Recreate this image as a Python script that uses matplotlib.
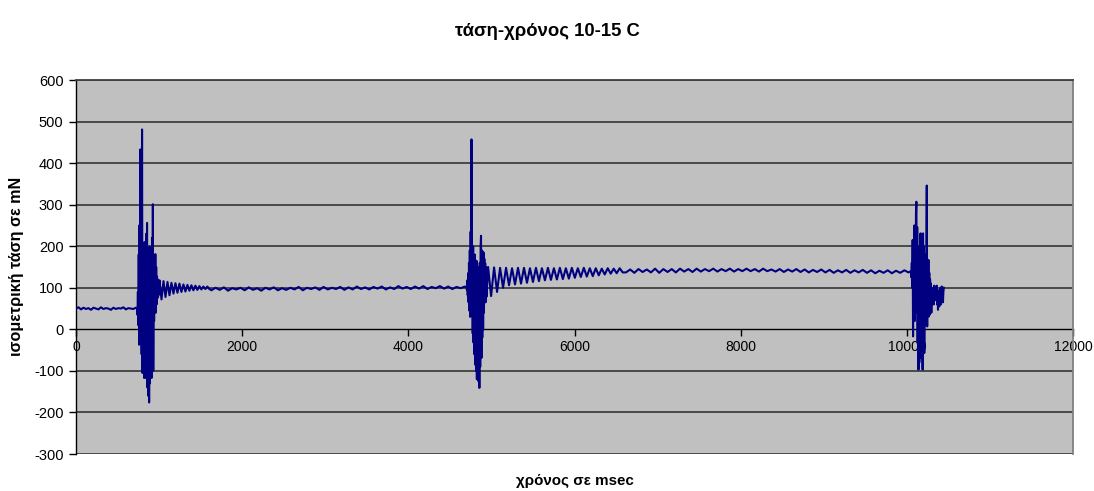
import numpy as np
import matplotlib
matplotlib.use('Agg')
import matplotlib.pyplot as plt

plt.rcParams['font.family'] = ['Liberation Sans', 'DejaVu Sans']

# ---- data (ms, mN) ----
# each segment: start time, sampling step, values
rest1_start, rest1_step = 0, 30
rest1 = [50,53,48,52,49,51,47,52,50,48,53,49,51,50,47,52,49,51,50,53,48,51,50,49,52]

burst1_start, burst1_step = 735, 5
burst1 = [50,35,90,10,180,-37,251,20,433,-20,300,-60,481,-105,200,-90,150,-117,210,-80,
          184,-117,230,-100,256,-140,190,-160,160,-176,199,-130,170,-110,150,-117,220,-40,
          301,-100,120,20,140,60,181,40,150,60,127,75,120,80,115,85]

settle1_start, settle1_step = 1005, 24
settle1 = [118,72,116,78,114,82,112,86,111,88,110,90,108,91,107,93,106,94,105,95,104,96,
           103,97,103,97]

steady1_start, steady1_step = 1630, 50
steady1 = [94,100,95,101,93,99,96,100,94,101,95,99,93,100,96,101,94,99,95,100,
           96,102,94,100,97,101,95,102,96,100,97,102,95,101,96,103,97,101,96,102,
           98,103,96,101,97,104,98,102,97,103,98,104,97,102,99,104,98,103,97,102,
           99,103]

burst2_start, burst2_step = 4700, 5
burst2 = [101,95,118,82,135,65,160,45,190,30,235,80,457,40,170,-10,200,-32,150,-60,
          180,-85,140,-100,165,-120,130,-105,150,-125,110,-141,160,-90,200,225,-69,190,
          -20,187,-1,185,40,170,71,159,65,150,78]

settle2_start, settle2_step = 4960, 36
settle2 = [150,80,149,90,148,100,148,106,147,108,148,110,148,112,147,114,148,116,147,118,
           148,119,147,120,148,121,147,122,148,124,147,126,148,127,147,128,147,130,
           146,132,147,134,146,135,147,137]

steady2_start, steady2_step = 6620, 50
steady2 = [137,144,136,145,138,144,137,146,136,145,138,145,137,146,139,145,138,146,139,145,
           140,146,139,145,140,146,139,145,140,146,140,145,139,146,140,144,139,145,138,144,
           139,145,138,144,137,143,138,144,137,143,136,142,137,143,136,142,137,143,136,142,
           135,141,136,142,135,141,136,142,137]

burst3_start, burst3_step = 10050, 5
burst3 = [140,125,160,100,215,-17,200,60,250,20,230,80,280,307,40,246,-30,180,-97,150,
          -80,200,0,231,-50,160,-70,120,-97,231,-20,200,-57,150,20,180,10,200,346,7,
          167,40,167,31,136,35,120,50,110,40,100,60,90,76,100,60,105,70,100,80,
          95,70,105,60,95,47,85,91,55,66,95,100,60,70,103,85,100,65,90,100]

segments = [(rest1_start, rest1_step, rest1), (burst1_start, burst1_step, burst1),
            (settle1_start, settle1_step, settle1), (steady1_start, steady1_step, steady1),
            (burst2_start, burst2_step, burst2), (settle2_start, settle2_step, settle2),
            (steady2_start, steady2_step, steady2), (burst3_start, burst3_step, burst3)]

t = np.concatenate([s + st * np.arange(len(v)) for s, st, v in segments])
y = np.concatenate([np.array(v, dtype=float) for s, st, v in segments])

xticks = [0, 2000, 4000, 6000, 8000, 10000, 12000]
yticks = [-300, -200, -100, 0, 100, 200, 300, 400, 500, 600]

fig = plt.figure(figsize=(10.94, 4.91), dpi=100)
ax = fig.add_axes([76/1094, 1-454/491, (1073-76)/1094, (454-80)/491])
ax.set_facecolor('#C0C0C0')

ax.plot(t, y, color='#000080', lw=1.5, zorder=3)

ax.set_xlim(0, 12000)
ax.set_ylim(-300, 600)
ax.set_xticks(xticks)
ax.set_yticks(yticks)
ax.set_xticklabels([str(v) for v in xticks], fontsize=10.5)
ax.set_yticklabels([str(v) for v in yticks], fontsize=10.5)

for v in yticks:
    if v != 0:
        ax.axhline(v, color='#404040', lw=1.3, zorder=1)

ax.spines['bottom'].set_position(('data', 0))
ax.spines['bottom'].set_color('black')
ax.spines['bottom'].set_linewidth(1.0)
ax.spines['bottom'].set_zorder(2)
ax.spines['left'].set_color('black')
ax.spines['left'].set_linewidth(1.0)
ax.spines['top'].set_color('#404040')
ax.spines['top'].set_linewidth(1.3)
ax.spines['right'].set_color('#808080')
ax.spines['right'].set_linewidth(1.3)

ax.tick_params(axis='x', direction='out', length=5, width=1, pad=3)
ax.tick_params(axis='y', direction='out', length=5, width=1, pad=4)

fig.text(0.5, 1-31/491, 'τάση-χρόνος 10-15 C', ha='center', va='center',
         fontsize=13.3, fontweight='bold')
fig.text((76+1073)/2/1094, 1-481/491, 'χρόνος σε msec', ha='center', va='center',
         fontsize=10.9, fontweight='bold')
fig.text(17/1094, 1-266/491, 'ισομετρική τάση σε mN', ha='center', va='center',
         rotation=90, fontsize=11.6, fontweight='bold')

fig.savefig('out.png', dpi=100, facecolor='white')
